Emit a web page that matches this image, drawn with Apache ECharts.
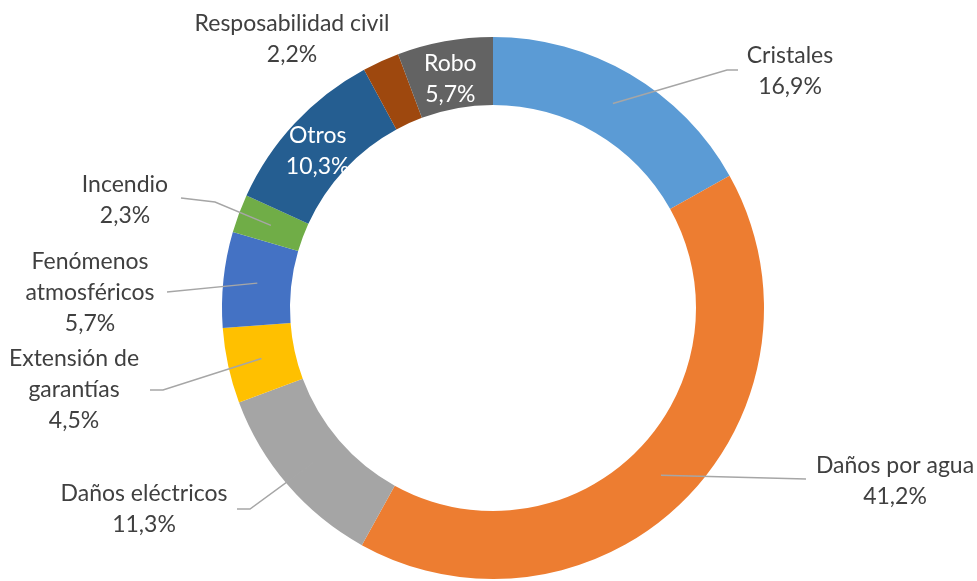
<!DOCTYPE html>
<html><head><meta charset="utf-8">
<script src="https://cdn.jsdelivr.net/npm/echarts@6/dist/echarts.min.js"></script>
<style>html,body{margin:0;padding:0;background:#fff}#c{width:977px;height:581px}</style>
</head><body><div id="c"></div>
<script>
const categories = ['Cristales', 'Daños por agua', 'Daños eléctricos', 'Extensión de garantías', 'Fenómenos atmosféricos', 'Incendio', 'Otros', 'Resposabilidad civil', 'Robo'];
const values = [16.9, 41.2, 11.3, 4.5, 5.7, 2.3, 10.3, 2.2, 5.7];
const labelNames = ['Cristales', 'Daños por agua', 'Daños eléctricos', 'Extensión de\ngarantías', 'Fenómenos\natmosféricos', 'Incendio', 'Otros', 'Resposabilidad civil', 'Robo'];
const insideLabels = ['Otros', 'Robo'];

// styles / layout
const colors = ['#5B9BD5', '#ED7D31', '#A5A5A5', '#FFC000', '#4472C4', '#70AD47', '#255E91', '#9E480E', '#636363'];
const CX = 493, CY = 308, R_OUT = 271, R_IN = 203;
const labelPos = {
  'Cristales': { x: 790, y: 71, line: [[727, 70], [738, 70]] },
  'Daños por agua': { x: 895, y: 481, line: [[806, 479]] },
  'Daños eléctricos': { x: 144, y: 509, line: [[250, 509], [237, 509]] },
  'Extensión de garantías': { x: 74, y: 390, line: [[163, 390], [150, 390]] },
  'Fenómenos atmosféricos': { x: 90, y: 293, line: [[167, 292]] },
  'Incendio': { x: 125, y: 200, line: [[215, 202], [181, 198]] },
  'Resposabilidad civil': { x: 292, y: 39, line: null }
};

const total = values.reduce((a, b) => a + b, 0);
function midPoint(i) {
  let before = 0;
  for (let k = 0; k < i; k++) before += values[k];
  const frac = (before + values[i] / 2) / total;
  const ang = frac * 2 * Math.PI;
  const r = (R_OUT + R_IN) / 2;
  return [CX + r * Math.sin(ang), CY - r * Math.cos(ang)];
}

const FONT = 'Lato, "Open Sans", sans-serif';

const sectorData = categories.map((name, i) => ({
  name: name, value: values[i], itemStyle: { color: colors[i] }
}));

const labelData = categories.map((name, i) => {
  const inside = insideLabels.includes(name);
  return {
    name: name,
    value: values[i],
    itemStyle: { color: 'rgba(0,0,0,0)' },
    label: {
      position: inside ? 'inside' : 'outside',
      color: inside ? '#ffffff' : '#404040',
      offset: inside ? [0, 7] : [0, 0],
      formatter: labelNames[i] + '\n' + values[i].toFixed(1).replace('.', ',') + '%'
    },
    labelLine: { show: !inside && !!(labelPos[name] && labelPos[name].line) }
  };
});

const chart = echarts.init(document.getElementById('c'), null, { renderer: 'canvas' });
chart.setOption({
  animation: false,
  backgroundColor: '#ffffff',
  series: [{
    type: 'pie',
    z: 2,
    center: [CX, CY],
    radius: [R_IN, R_OUT],
    startAngle: 90,
    clockwise: true,
    label: { show: false },
    labelLine: { show: false },
    emphasis: { disabled: true },
    data: sectorData
  }, {
    type: 'pie',
    z: 5,
    silent: true,
    center: [CX, CY],
    radius: [R_IN, R_OUT],
    startAngle: 90,
    clockwise: true,
    avoidLabelOverlap: false,
    label: {
      show: true,
      fontFamily: FONT,
      fontSize: 23,
      lineHeight: 31,
      align: 'center'
    },
    labelLine: {
      lineStyle: { color: '#A6A6A6', width: 1.5 }
    },
    emphasis: { disabled: true },
    labelLayout: function (params) {
      const name = categories[params.dataIndex];
      const p = labelPos[name];
      if (!p) return {};
      const out = { x: p.x, y: p.y, align: 'center', verticalAlign: 'middle' };
      if (p.line) {
        out.labelLinePoints = [midPoint(params.dataIndex)].concat(p.line);
      }
      return out;
    },
    data: labelData
  }]
});
</script>
</body></html>
